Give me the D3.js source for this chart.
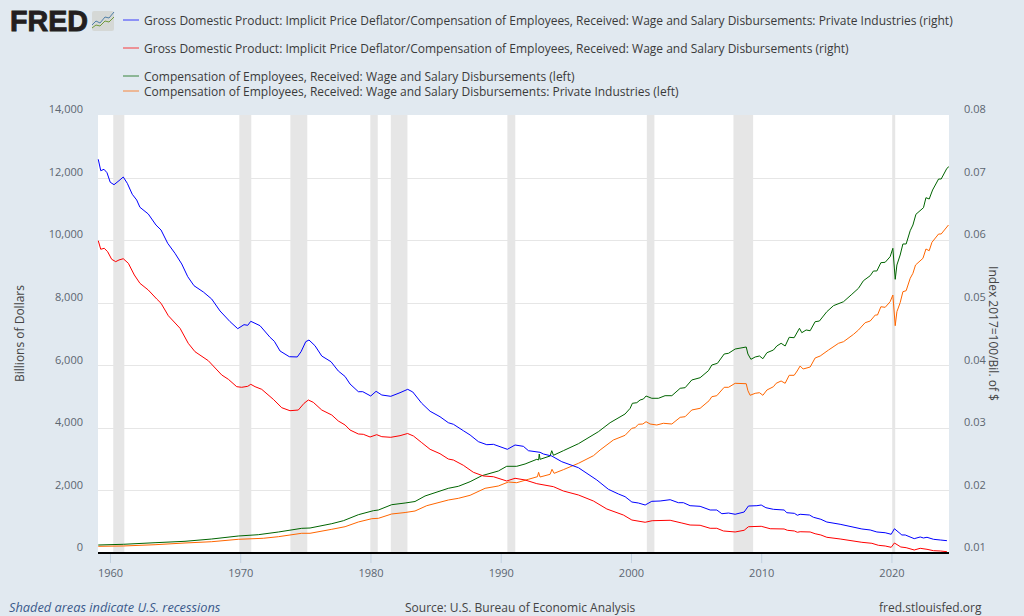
<!DOCTYPE html>
<html><head><meta charset="utf-8">
<script src="https://cdn.jsdelivr.net/npm/d3@7"></script>
<style>
html,body{margin:0;padding:0;background:#e1e9f0;overflow:hidden}
svg{display:block}
text{font-family:"Open Sans",sans-serif}
</style></head><body>
<svg id="c" width="1024" height="616"></svg>
<script>
const legendLabels=[
"Gross Domestic Product: Implicit Price Deflator/Compensation of Employees, Received: Wage and Salary Disbursements: Private Industries (right)",
"Gross Domestic Product: Implicit Price Deflator/Compensation of Employees, Received: Wage and Salary Disbursements (right)",
"Compensation of Employees, Received: Wage and Salary Disbursements (left)",
"Compensation of Employees, Received: Wage and Salary Disbursements: Private Industries (left)"];
const xTicks=[1960,1970,1980,1990,2000,2010,2020];
const leftTicks=[0,2000,4000,6000,8000,10000,12000,14000];
const rightTicks=[0.01,0.02,0.03,0.04,0.05,0.06,0.07,0.08];
const recessionStart=[1960.25,1969.93,1973.85,1979.99,1981.56,1990.51,2001.22,2007.87,2020.06];
const recessionEnd=[1961.10,1970.85,1975.15,1980.56,1982.84,1991.12,2001.80,2009.38,2020.29];

const blueYears=[1959.10,1959.29,1959.54,1959.77,1960.02,1960.31,1960.69,1961.02,1961.33,1961.71,1962.05,1962.30,1962.94,1963.53,1963.92,1964.43,1964.99,1965.51,1965.97,1966.45,1967.17,1967.81,1968.45,1969.22,1969.81,1970.29,1970.58,1970.81,1971.52,1972.29,1972.62,1973.06,1973.77,1974.38,1974.67,1975.03,1975.28,1975.74,1976.26,1976.97,1977.53,1978.05,1978.43,1979.07,1979.41,1980.02,1980.43,1980.87,1981.56,1982.27,1982.86,1983.25,1983.94,1984.58,1985.34,1985.98,1986.37,1987.13,1987.65,1988.29,1988.93,1989.44,1990.51,1991.10,1991.74,1992.13,1993.02,1993.28,1993.92,1994.69,1995.97,1997.38,1998.27,1999.04,1999.55,2000.07,2000.57,2001.09,2001.60,2002.24,2003.01,2003.64,2004.03,2004.54,2005.31,2006.08,2006.59,2006.98,2007.49,2008.00,2008.69,2009.02,2009.67,2010.00,2010.36,2010.94,2011.76,2011.97,2012.55,2012.78,2012.99,2013.71,2014.01,2014.58,2015.04,2016.06,2017.73,2018.37,2018.88,2019.52,2019.98,2020.23,2020.80,2021.06,2021.75,2022.21,2022.46,2022.73,2023.23,2023.75,2024.26];
const blueValues=[.07292,.07110,.07132,.07078,.06925,.06886,.06950,.07009,.06908,.06733,.06642,.06525,.06418,.06242,.06162,.05950,.05790,.05619,.05416,.05272,.05171,.05059,.04868,.04697,.04585,.04649,.04639,.04703,.04633,.04447,.04383,.04228,.04137,.04133,.04217,.04377,.04404,.04313,.04148,.04057,.03909,.03821,.03701,.03578,.03578,.03509,.03584,.03525,.03504,.03562,.03616,.03573,.03392,.03265,.03178,.03082,.03057,.02955,.02886,.02779,.02731,.02737,.02657,.02726,.02705,.02635,.02609,.02582,.02550,.02459,.02363,.02167,.02018,.01943,.01900,.01815,.01799,.01767,.01826,.01831,.01852,.01804,.01804,.01756,.01746,.01687,.01687,.01628,.01639,.01619,.01655,.01751,.01756,.01767,.01724,.01698,.01687,.01644,.01634,.01603,.01619,.01607,.01571,.01539,.01495,.01459,.01384,.01368,.01336,.01324,.01299,.01388,.01288,.01288,.01229,.01256,.01240,.01251,.01219,.01208,.01197];

const redYears=[1959.10,1959.29,1959.56,1959.82,1960.13,1960.44,1960.69,1961.02,1961.41,1961.87,1962.30,1962.94,1963.59,1963.92,1964.48,1965.38,1966.01,1966.53,1967.55,1968.58,1969.09,1969.73,1970.11,1970.58,1970.81,1971.14,1971.65,1972.54,1973.19,1973.82,1974.46,1974.90,1975.23,1975.61,1976.26,1977.03,1977.53,1978.05,1978.43,1979.07,1979.45,1979.97,1980.48,1980.87,1981.56,1982.27,1982.85,1983.30,1983.94,1984.58,1985.34,1985.98,1986.37,1987.13,1987.90,1988.67,1989.44,1990.46,1991.10,1991.87,1992.77,1994.05,1994.81,1995.97,1997.12,1998.15,1999.42,2000.07,2001.09,2001.63,2003.01,2003.91,2004.54,2005.31,2006.08,2006.59,2007.10,2008.00,2008.69,2009.02,2010.00,2010.69,2011.76,2012.01,2012.55,2012.78,2012.99,2013.76,2014.14,2014.58,2015.04,2016.06,2017.73,2018.50,2019.00,2019.52,2019.98,2020.23,2020.72,2021.13,2021.75,2022.21,2022.73,2023.23,2023.75,2024.26];
const redValues=[.05991,.05854,.05870,.05815,.05694,.05656,.05683,.05703,.05630,.05443,.05310,.05203,.05059,.04991,.04792,.04591,.04351,.04217,.04073,.03845,.03776,.03658,.03648,.03664,.03696,.03658,.03616,.03456,.03322,.03274,.03285,.03392,.03445,.03408,.03285,.03205,.03110,.03046,.02966,.02902,.02897,.02854,.02891,.02859,.02849,.02875,.02910,.02870,.02763,.02657,.02587,.02502,.02486,.02402,.02290,.02231,.02219,.02151,.02194,.02167,.02108,.02060,.01991,.01927,.01831,.01703,.01607,.01527,.01491,.01516,.01523,.01479,.01447,.01443,.01395,.01395,.01352,.01336,.01363,.01420,.01427,.01388,.01384,.01363,.01352,.01331,.01340,.01336,.01308,.01288,.01251,.01224,.01171,.01155,.01123,.01112,.01091,.01160,.01096,.01085,.01048,.01075,.01059,.01037,.01032,.01021];

const greenYears=[1959.10,1961.02,1963.46,1965.76,1967.81,1969.85,1971.39,1972.93,1974.72,1975.36,1977.03,1977.92,1979.07,1980.22,1980.61,1981.63,1982.66,1983.42,1984.19,1985.98,1986.75,1987.65,1988.55,1989.82,1990.46,1991.23,1991.87,1992.77,1992.91,1992.96,1993.02,1993.79,1993.92,1994.05,1994.81,1995.97,1997.50,1998.40,1999.55,1999.94,2000.11,2000.45,2000.70,2000.96,2001.16,2001.60,2002.11,2002.62,2003.14,2003.78,2004.16,2004.67,2005.31,2005.95,2006.21,2006.64,2007.16,2007.49,2008.00,2008.85,2008.98,2009.21,2009.54,2009.87,2010.13,2010.44,2010.94,2011.20,2011.53,2011.84,2012.15,2012.53,2012.69,2012.94,2013.12,2013.45,2013.76,2014.14,2014.47,2015.04,2015.55,2016.32,2016.96,2017.47,2017.85,2018.37,2018.62,2018.88,2019.19,2019.52,2019.90,2020.11,2020.29,2020.42,2020.67,2020.88,2021.13,2021.44,2021.65,2021.88,2022.46,2022.65,2022.90,2023.16,2023.62,2023.82,2024.26,2024.41];
const greenValues=[256,278,329,374,447,543,585,671,789,799,937,1032,1224,1352,1374,1544,1598,1646,1822,2068,2132,2279,2471,2621,2771,2771,2845,2995,2973,3164,2995,3100,3270,3123,3270,3494,3877,4165,4443,4625,4785,4804,4890,4922,5018,4945,4945,5028,5028,5264,5284,5530,5603,5827,6009,6063,6361,6383,6520,6584,6361,6191,6265,6297,6210,6402,6488,6616,6703,6616,6894,6882,7000,7182,7041,7128,7105,7393,7415,7713,7905,8032,8269,8461,8704,8863,9014,9014,9279,9292,9471,9739,8748,9205,9525,9877,9877,10302,10484,10826,11037,11357,11315,11603,11954,11954,12296,12347];

const orangeYears=[1959.10,1961.02,1963.46,1965.76,1967.81,1969.85,1971.77,1972.93,1974.72,1975.36,1977.03,1978.05,1979.07,1980.10,1980.61,1981.63,1982.66,1983.42,1984.32,1985.98,1986.75,1987.65,1988.80,1989.82,1990.59,1991.23,1992.13,1992.82,1992.91,1993.02,1993.79,1993.94,1994.10,1994.81,1995.97,1997.12,1997.63,1998.65,1999.55,2000.07,2000.32,2000.57,2000.91,2001.16,2001.47,2001.98,2002.49,2003.14,2003.78,2004.16,2004.67,2005.31,2006.00,2006.21,2006.59,2007.16,2007.49,2008.00,2008.85,2008.98,2009.15,2009.54,2009.87,2010.13,2010.44,2010.94,2011.15,2011.53,2011.84,2012.15,2012.53,2012.76,2012.99,2013.22,2013.76,2014.14,2014.53,2015.17,2015.94,2016.32,2017.09,2017.47,2017.98,2018.37,2018.76,2018.93,2019.19,2019.52,2019.90,2020.11,2020.29,2020.42,2020.67,2020.88,2021.13,2021.44,2021.65,2021.85,2022.42,2022.65,2022.90,2023.11,2023.62,2023.82,2024.38];
const orangeValues=[214,224,265,320,361,438,470,521,630,630,758,841,991,1096,1109,1247,1294,1342,1512,1694,1748,1844,2068,2142,2269,2247,2356,2439,2579,2429,2515,2675,2547,2663,2867,3110,3292,3612,3762,3986,4005,4114,4123,4197,4123,4091,4146,4123,4337,4357,4571,4625,4868,4996,5028,5296,5296,5424,5411,5188,5041,5104,5124,5041,5210,5315,5424,5498,5424,5680,5680,5817,5977,5881,5945,6233,6297,6488,6703,6754,6990,7128,7361,7415,7607,7607,7872,7853,8032,8246,7265,7713,8000,8352,8384,8780,8940,9205,9419,9717,9662,9931,10196,10196,10484];

const colors=["#0000ff","#ff0000","#006400","#ff6600"];
const svg=d3.select("#c");
const M={l:98,r:949,t:115,b:553};
const x=d3.scaleLinear().domain([1959.08,2024.42]).range([M.l,M.r]);
const yL=d3.scaleLinear().domain([0,14000]).range([M.b,M.t]);
const yR=d3.scaleLinear().domain([0.01,0.08]).range([M.b,M.t]);

svg.append("rect").attr("x",M.l).attr("y",M.t).attr("width",M.r-M.l).attr("height",M.b-M.t).attr("fill","#fff");

svg.append("g").selectAll("rect").data(recessionStart).join("rect")
 .attr("x",d=>x(d)).attr("y",M.t).attr("height",M.b-M.t)
 .attr("width",(d,i)=>x(recessionEnd[i])-x(d)).attr("fill","#e6e6e6");

svg.append("g").selectAll("line").data(leftTicks.filter(d=>d>0&&d<14000)).join("line")
 .attr("x1",M.l).attr("x2",M.r).attr("y1",d=>Math.round(yL(d))+.5).attr("y2",d=>Math.round(yL(d))+.5)
 .attr("stroke","#e6e6e6");

const tickColor="#5c6670";
const gL=svg.append("g").attr("transform",`translate(${M.l},0)`)
 .call(d3.axisLeft(yL).tickValues(leftTicks).tickSize(0).tickPadding(15).tickFormat(d3.format(",")));
const gR=svg.append("g").attr("transform",`translate(${M.r},0)`)
 .call(d3.axisRight(yR).tickValues(rightTicks).tickSize(0).tickPadding(15).tickFormat(d3.format(".2f")));
[gL,gR].forEach(g=>{g.select(".domain").remove();
 g.selectAll("text").attr("dy","-0.2em").attr("font-size",11).attr("font-family",'"Open Sans",sans-serif').attr("fill",tickColor);});

const line=(xs,ys,sc)=>d3.line().x((d,i)=>x(xs[i])).y(d=>sc(d))(ys);
const series=[[orangeYears,orangeValues,yL,colors[3]],[greenYears,greenValues,yL,colors[2]],[redYears,redValues,yR,colors[1]],[blueYears,blueValues,yR,colors[0]]];
svg.append("g").selectAll("path").data(series).join("path")
 .attr("d",s=>line(s[0],s[1],s[2])).attr("fill","none").attr("stroke",s=>s[3]).attr("stroke-width",1);

const gX=svg.append("g").attr("transform",`translate(0,${M.b})`)
 .call(d3.axisBottom(x).tickValues(xTicks).tickSize(10).tickPadding(6).tickFormat(d3.format("d")));
gX.select(".domain").remove();
gX.selectAll("line").attr("stroke","#c0d0e0");
gX.selectAll("text").attr("font-size",11).attr("font-family",'"Open Sans",sans-serif').attr("fill",tickColor);
svg.append("line").attr("x1",M.l).attr("x2",M.r).attr("y1",M.b).attr("y2",M.b).attr("stroke","#000").attr("stroke-width",2);

const legY=[20,48,76,91];
legendLabels.forEach((t,i)=>{
 svg.append("line").attr("x1",123).attr("x2",139).attr("y1",legY[i]).attr("y2",legY[i]).attr("stroke",colors[i]).attr("stroke-width",1).attr("stroke-opacity",.75);
 svg.append("text").attr("x",144).attr("y",legY[i]+5).attr("font-size",12).attr("fill","#3a3a3a").text(t);
});

const axisTitle=(x0,rot,t)=>svg.append("text").attr("transform",`translate(${x0},333.5) rotate(${rot})`).attr("text-anchor","middle").attr("font-size",12).attr("fill","#444").text(t);
axisTitle(24,-90,"Billions of Dollars");
axisTitle(989,90,"Index 2017=100/Bil. of $");

svg.append("text").attr("x",9).attr("y",612).attr("font-size",12.8).attr("font-style","italic").attr("fill","#3a5a8c").text("Shaded areas indicate U.S. recessions");
svg.append("text").attr("x",405).attr("y",612).attr("font-size",12).attr("fill","#444").text("Source: U.S. Bureau of Economic Analysis");
svg.append("text").attr("x",879).attr("y",612).attr("font-size",12).attr("fill","#444").text("fred.stlouisfed.org");

// FRED wordmark and icon
svg.append("text").attr("x",10).attr("y",30.5).attr("font-weight",700)
 .attr("font-size",29).attr("textLength",78).attr("lengthAdjust","spacingAndGlyphs").attr("fill","#231f20").attr("stroke","#231f20").attr("stroke-width",.9).style("font-family","'Liberation Sans'").text("FRED");
const icon=svg.append("g").attr("transform","translate(92,11)");
icon.append("rect").attr("width",22).attr("height",20).attr("rx",2).attr("fill","#d5d8d6");
icon.append("path").attr("d","M0 14 L4 10 L8 12 L13 6 L17 7 L22 1").attr("fill","none").attr("stroke","#4f7fa8").attr("stroke-width",1);
icon.append("path").attr("d","M0 17 L4 14 L8 15 L13 10 L17 11 L22 6").attr("fill","none").attr("stroke","#6f9a3c").attr("stroke-width",1);
</script>
</body></html>
